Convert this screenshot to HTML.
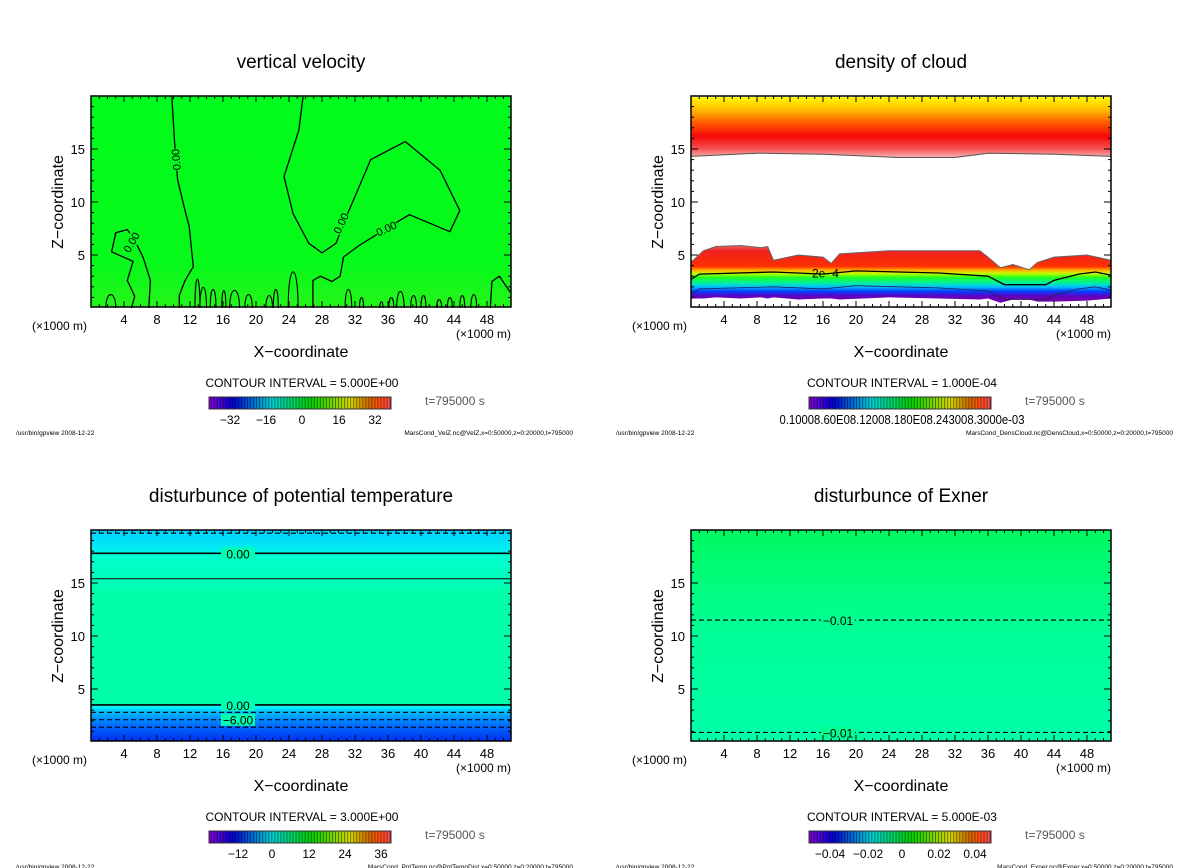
<!DOCTYPE html>
<html><head><meta charset="utf-8"><style>
html,body{margin:0;padding:0;background:#fff;}
svg{display:block;font-family:"Liberation Sans",sans-serif;}
</style></head><body>
<svg id="fig" width="1200" height="868" viewBox="0 0 1200 868" xmlns="http://www.w3.org/2000/svg">
<defs>
<linearGradient id="gVel" x1="0" y1="0" x2="0" y2="1"><stop offset="0" stop-color="#00fc1c"/><stop offset="0.8" stop-color="#06fa1a"/><stop offset="1" stop-color="#26f41a"/></linearGradient>
<linearGradient id="gTopCloud" x1="0" y1="0" x2="0" y2="1"><stop offset="0" stop-color="#fff700"/><stop offset="0.2" stop-color="#ffc000"/><stop offset="0.45" stop-color="#ff5000"/><stop offset="0.65" stop-color="#f50a0a"/><stop offset="0.85" stop-color="#f55050"/><stop offset="1" stop-color="#f8b0b0"/></linearGradient>
<linearGradient id="gPot" x1="0" y1="0" x2="0" y2="1"><stop offset="0" stop-color="#00d0ff"/><stop offset="0.1" stop-color="#00f0f0"/><stop offset="0.12" stop-color="#00ffd0"/><stop offset="0.25" stop-color="#00ffb8"/><stop offset="0.3" stop-color="#00ffa8"/><stop offset="0.82" stop-color="#00ffa8"/><stop offset="0.84" stop-color="#00f0ff"/><stop offset="0.87" stop-color="#00b0ff"/><stop offset="0.92" stop-color="#0070ff"/><stop offset="1" stop-color="#0030f0"/></linearGradient>
<linearGradient id="gExn" x1="0" y1="0" x2="0" y2="1"><stop offset="0" stop-color="#00f860"/><stop offset="0.5" stop-color="#00ff98"/><stop offset="1" stop-color="#00ffa8"/></linearGradient>
</defs>
<g id="root"></g>
</svg>
<script>
const NS="http://www.w3.org/2000/svg";
// axis ticks (data)
const xTickLabels=[4,8,12,16,20,24,28,32,36,40,44,48];
const zTickLabels=[5,10,15];
// panel meta
const titles=["vertical velocity","density of cloud","disturbunce of potential temperature","disturbunce of Exner"];
const intervals=["CONTOUR INTERVAL = 5.000E+00","CONTOUR INTERVAL = 1.000E-04","CONTOUR INTERVAL = 3.000E+00","CONTOUR INTERVAL = 5.000E-03"];
const cbarLabels=[["−32","−16","0","16","32"],["0.10008.60E08.12008.180E08.243008.3000e-03"],["−12","0","12","24","36"],["−0.04","−0.02","0","0.02","0.04"]];
const cbarLabelPos=[[230,266,302,339,375],[302],[238,272,309,345,381],[230,268,302,339,375]];
const footers=["MarsCond_VelZ.nc@VelZ,x=0:50000,z=0:20000,t=795000","MarsCond_DensCloud.nc@DensCloud,x=0:50000,z=0:20000,t=795000","MarsCond_PotTemp.nc@PotTempDist,x=0:50000,z=0:20000,t=795000","MarsCond_Exner.nc@Exner,x=0:50000,z=0:20000,t=795000"];
// vertical velocity contours (x km, z km)
const velLine1=[[9.8,19.9],[10.1,16],[10.5,12.1],[11.3,9.5],[11.9,7.7],[12.4,3.9],[11.4,2.6],[10.7,1.2],[10.7,0]];
const velLine2=[[25.7,19.9],[25.2,16.8],[23.4,12.4],[24.5,8.9],[26.4,6.1],[28.0,5.2],[29.7,6.1],[31.1,8.9],[33.9,14.0],[38.1,15.7],[42.3,13.0],[44.7,9.2],[43.5,7.2],[38.6,8.8],[36.2,7.7],[32.5,5.9],[30.6,4.8],[30.2,3.0],[29.2,2.5],[27.8,3.0],[26.9,2.6],[26.9,0]];
const velLobe=[[4.9,0],[5.3,1.1],[4.4,2.6],[5.1,4.4],[2.5,5.3],[3.0,7.1],[4.4,7.4],[5.3,6.4],[6.3,4.8],[7.2,2.6],[7.0,0]];
const velEdge=[[48.4,0],[48.6,2.5],[49.5,3.0],[50.8,1.5]];
const velBumps=[[2.4,1.3,1.2],[12.9,2.8,0.6],[13.6,2.0,0.8],[14.8,1.8,0.7],[16.1,1.7,0.5],[17.4,1.7,1.2],[19.1,1.3,0.9],[21.6,1.2,0.8],[22.4,1.8,0.6],[24.5,3.5,1.2],[31.2,1.8,0.8],[32.8,1.0,0.5],[35.2,0.6,0.4],[36.4,1.0,0.6],[37.5,1.6,0.9],[39.1,1.2,0.7],[40.3,1.2,0.6],[42.2,0.8,0.6],[43.5,1.0,0.6],[45.0,1.2,0.6],[46.4,1.3,0.7]];
// density of cloud
const cloudTopLowX=[0,1.5,3,6,8.5,9.3,10,13,16,17,18,24,30,35,36,37.5,39,41,42,44,48,50.9];
const cloudTopLowZ=[4.3,5.4,5.8,5.9,5.7,5.8,4.5,5.0,4.8,4.2,5.1,5.4,5.4,5.4,4.8,3.8,4.1,3.6,4.3,4.8,5.0,4.5];
const cloudBaseZ=[0.9,0.9,1.0,0.9,1.0,0.9,1.0,0.8,0.9,0.9,0.8,1.0,0.9,0.8,0.9,0.5,0.8,0.8,0.6,0.6,0.7,0.9];
const cont2eX=[0,1,10,16,20,30,36,38,43,44,47,49,50.9];
const cont2eZ=[2.7,3.2,3.4,3.2,3.5,3.3,3.0,2.2,2.2,2.6,3.2,3.4,3.1];
const cloudHighX=[0,8,16,25,32,36,44,50.9];
const cloudHighZ=[14.3,14.6,14.5,14.2,14.2,14.6,14.5,14.3];
// potential temperature contours: [z, dashed, label]
const potLevels=[[19.7,1,""],[17.8,0,"0.00"],[15.4,0,""],[3.5,0,"0.00"],[2.8,1,""],[2.1,1,"-6.00"],[1.4,1,""]];
// exner contours
const exnLevels=[[11.5,1,"-0.01"],[0.9,1,"-0.01"]];

const root=document.getElementById('root');
function el(tag,attrs,parent){const e=document.createElementNS(NS,tag);for(const k in attrs)e.setAttribute(k,attrs[k]);(parent||root).appendChild(e);return e;}
function txt(s,attrs,parent){const e=el('text',attrs,parent);e.textContent=s;return e;}

const panels=[[0,0],[600,0],[0,434],[600,434]];
const X0=91,W=420,T=96,B=307;
panels.forEach((p,i)=>{
  const ox=p[0],oy=p[1];
  const g=el('g',{});
  
  
  const sx=x=>ox+X0+x*8.25;
  const sz=z=>oy+308-z*10.6;
  const pts=a=>a.map(q=>sx(q[0]).toFixed(1)+','+sz(q[1]).toFixed(1)).join(' ');
  const t=txt(titles[i],{x:ox+301,y:oy+68,'text-anchor':'middle','font-size':19,fill:'#000'},g);
  
  
  const area=el('g',{},g);
  
  
  if(i===0){
    el('rect',{x:ox+X0,y:oy+T,width:W,height:B-T,fill:'url(#gVel)'},area);
    [velLine1,velLine2,velLobe,velEdge].forEach((a,k)=>{
      const l=el('polyline',{points:pts(a),fill:'none',stroke:'#000','stroke-width':1.3,'stroke-linejoin':'round'},area);
      
      
    });
    velBumps.forEach(b=>{
      const d=`M${sx(b[0]-b[2]/2)},${sz(0)} C${sx(b[0]-b[2]/2)},${sz(b[1]*1.3)} ${sx(b[0]+b[2]/2)},${sz(b[1]*1.3)} ${sx(b[0]+b[2]/2)},${sz(0)}`;
      const l=el('path',{d:d,fill:'none',stroke:'#000','stroke-width':1.1},area);
      
      
    });
    [[10.3,14,-95],[4.9,6.2,-60],[30.3,8.0,-65],[35.8,7.5,-25]].forEach(q=>{
      el('rect',{x:sx(q[0])-11,y:sz(q[1])-6,width:22,height:12,fill:'#04fb1c',transform:`rotate(${q[2]} ${sx(q[0])} ${sz(q[1])})`},area);
      const l=txt("0.00",{x:sx(q[0]),y:sz(q[1])+4,'text-anchor':'middle','font-size':11,transform:`rotate(${q[2]} ${sx(q[0])} ${sz(q[1])})`},area);
      
      
    });
  } else if(i===1){
    el('rect',{x:ox+X0,y:oy+T,width:W,height:B-T,fill:'#fff'},area);
    const hp=cloudHighX.map((x,k)=>[x,cloudHighZ[k]]);
    el('polygon',{points:pts([[0,19.9],...hp,[50.9,19.9]]),fill:'url(#gTopCloud)'},area);
    const hl=el('polyline',{points:pts(hp),fill:'none',stroke:'#555','stroke-width':1},area);
    
    
    const lg=el('linearGradient',{id:'gLow',gradientUnits:'userSpaceOnUse',x1:0,x2:0,y1:sz(6),y2:sz(0.8)},document.querySelector('defs'));
    [[0,'#f07070'],[0.12,'#f02020'],[0.4,'#ff3000'],[0.47,'#ffb000'],[0.53,'#c0ff00'],[0.6,'#20ff20'],[0.7,'#00f0a0'],[0.77,'#00c0ff'],[0.85,'#0040ff'],[0.94,'#6000c0'],[1,'#7000b0']].forEach(s=>el('stop',{offset:s[0],'stop-color':s[1]},lg));
    const top=cloudTopLowX.map((x,k)=>[x,cloudTopLowZ[k]]);
    const base=cloudTopLowX.map((x,k)=>[x,cloudBaseZ[k]]).reverse();
    const poly=el('polygon',{points:pts([...top,...base]),fill:'url(#gLow)'},area);
    
    
    el('polyline',{points:pts(top),fill:'none',stroke:'#666','stroke-width':1},area);
    const c=el('polyline',{points:pts(cont2eX.map((x,k)=>[x,cont2eZ[k]])),fill:'none',stroke:'#000','stroke-width':1.3},area);
    
    
    el('polyline',{points:pts(cont2eX.map((x,k)=>[x,cont2eZ[k]-1.4])),fill:'none',stroke:'#224','stroke-width':0.8},area);
    const lb=txt("2e−4",{x:sx(16.3),y:sz(2.9),'text-anchor':'middle','font-size':12},area);
    
    
  } else {
    const lev=i===2?potLevels:exnLevels;
    el('rect',{x:ox+X0,y:oy+T,width:W,height:B-T,fill:i===2?'url(#gPot)':'url(#gExn)'},area);
    lev.forEach(L=>{
      const y=sz(L[0]);
      const l=el('line',{x1:ox+X0,x2:ox+X0+W,y1:y,y2:y,stroke:'#000','stroke-width':L[2]&&!L[1]?1.6:1.1,'stroke-dasharray':L[1]?'5,3':''},area);
      
      
      if(L[2]){
        const cx=ox+X0+W*0.35;
        el('rect',{x:cx-17,y:y-6,width:34,height:12,fill:i===2?'#00ffb0':'#00ff90'},area);
        const t2=txt(L[2].replace('-','−'),{x:cx,y:y+5,'text-anchor':'middle','font-size':12},area);
        
        
      }
    });
  }
  const fr=el('rect',{x:ox+X0,y:oy+T,width:W,height:B-T,fill:'none',stroke:'#000','stroke-width':1.5},g);
  
  
  for(let x=1;x<=50;x++){
    const L=x%4===0?6:3;
    el('line',{x1:sx(x),x2:sx(x),y1:oy+B,y2:oy+B-L,stroke:'#000'},g);
    el('line',{x1:sx(x),x2:sx(x),y1:oy+T,y2:oy+T+L,stroke:'#000'},g);
  }
  for(let z=1;z<=19;z++){
    const L=z%5===0?7:3;
    el('line',{x1:ox+X0,x2:ox+X0+L,y1:sz(z),y2:sz(z),stroke:'#000'},g);
    el('line',{x1:ox+X0+W,x2:ox+X0+W-L,y1:sz(z),y2:sz(z),stroke:'#000'},g);
  }
  xTickLabels.forEach(v=>{const e=txt(String(v),{x:sx(v),y:oy+324,'text-anchor':'middle','font-size':13},g);});
  zTickLabels.forEach(v=>{const e=txt(String(v),{x:ox+85,y:sz(v)+5,'text-anchor':'end','font-size':13},g);});
  let e=txt("(×1000 m)",{x:ox+32,y:oy+330,'font-size':12},g);
  
  e=txt("(×1000 m)",{x:ox+456,y:oy+338,'font-size':12},g);
  
  e=txt("X−coordinate",{x:ox+301,y:oy+357,'text-anchor':'middle','font-size':16},g);
  
  e=txt("Z−coordinate",{x:ox+63,y:oy+202,'text-anchor':'middle','font-size':16,transform:`rotate(-90 ${ox+63} ${oy+202})`},g);
  
  e=txt(intervals[i],{x:ox+302,y:oy+387,'text-anchor':'middle','font-size':12},g);
  
  e=txt("t=795000 s",{x:ox+425,y:oy+405,'font-size':12,fill:'#555'},g);
  
  const cb=el('g',{},g);
  
  
  const n=60,cx0=ox+209,cw=182;
  for(let k=0;k<n;k++){
    const f=k/(n-1);
    let h=275-f*275; let lgt=f>0.9?45+(f-0.9)*200:42;
    el('rect',{x:cx0+k*cw/n,y:oy+397,width:cw/n+0.3,height:12,fill:`hsl(${h},100%,${lgt}%)`},cb);
    el('line',{x1:cx0+k*cw/n+cw/n*0.7,x2:cx0+k*cw/n+cw/n*0.7,y1:oy+397,y2:oy+409,stroke:'rgba(0,0,0,0.45)','stroke-width':1},cb);
  }
  el('rect',{x:cx0,y:oy+397,width:cw,height:12,fill:'none',stroke:'#333'},cb);
  cbarLabels[i].forEach((s,k)=>{
    const a={x:ox+cbarLabelPos[i][k],y:oy+424,'text-anchor':'middle','font-size':12};
    if(i===1){a.textLength=245;a.lengthAdjust='spacingAndGlyphs';a['font-size']=13;}
    const t3=txt(s,a,cb);
    
    
  });
  e=txt("/usr/bin/gpview   2008-12-22",{x:ox+16,y:oy+435,'font-size':6.5},g);
  
  e=txt(footers[i],{x:ox+573,y:oy+435,'text-anchor':'end','font-size':6.5},g);
  
});
</script>
</body></html>
